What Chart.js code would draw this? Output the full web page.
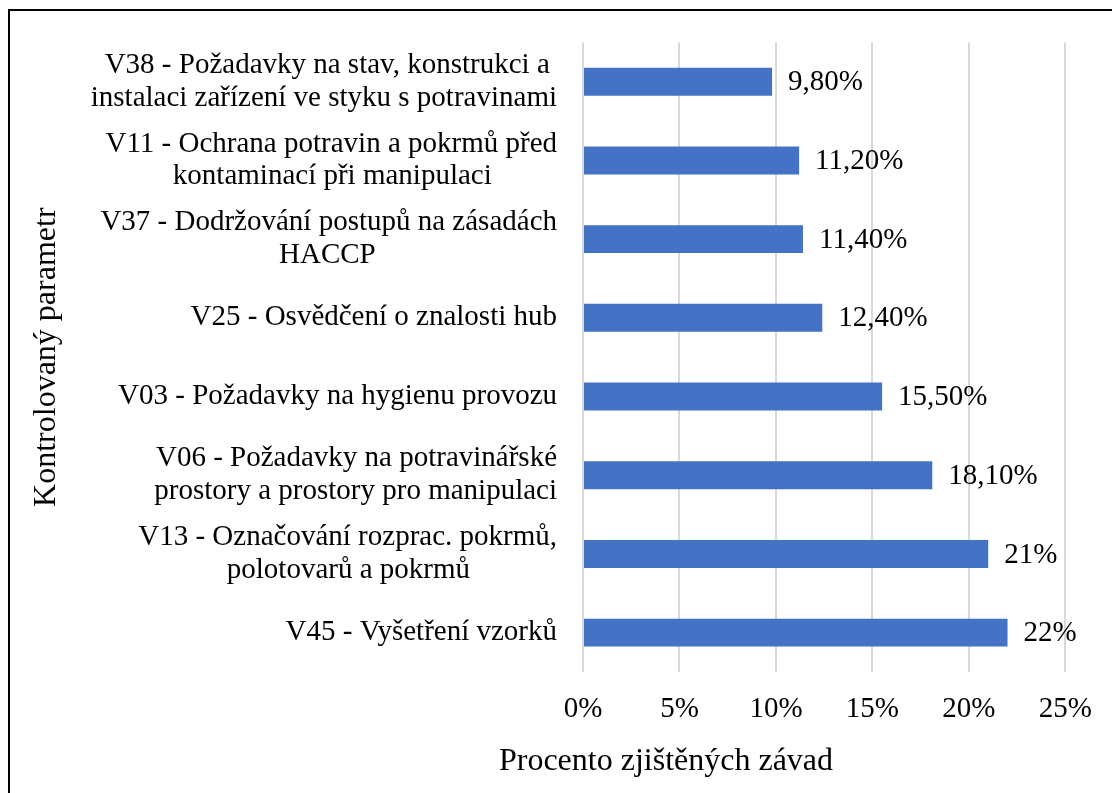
<!DOCTYPE html>
<html><head><meta charset="utf-8">
<script src="https://cdn.jsdelivr.net/npm/chart.js@4/dist/chart.umd.min.js"></script>
<style>
html,body{margin:0;padding:0;background:#fff;overflow:hidden;}
#wrap{position:relative;width:1112px;height:793px;}
#frame{position:absolute;left:8px;top:9px;width:1200px;height:900px;border-left:2px solid #000;border-top:2px solid #000;pointer-events:none;}
canvas{position:absolute;left:0;top:0;}
</style></head><body>
<div id="wrap"><canvas id="c" width="1112" height="793"></canvas><div id="frame"></div></div>
<script>
const categories = [
  ["V38 - Požadavky na stav, konstrukci a", "instalaci zařízení ve styku s potravinami"],
  ["V11 - Ochrana potravin a pokrmů před", "kontaminací při manipulaci"],
  ["V37 - Dodržování postupů na zásadách", "HACCP"],
  ["V25 - Osvědčení o znalosti hub"],
  ["V03 - Požadavky na hygienu provozu"],
  ["V06 - Požadavky na potravinářské", "prostory a prostory pro manipulaci"],
  ["V13 - Označování rozprac. pokrmů,", "polotovarů a pokrmů"],
  ["V45 - Vyšetření vzorků"]
];
const values = [9.8, 11.2, 11.4, 12.4, 15.5, 18.1, 21, 22];
const valueLabels = ["9,80%", "11,20%", "11,40%", "12,40%", "15,50%", "18,10%", "21%", "22%"];
const xTicks = [0, 5, 10, 15, 20, 25];
const xTitle = "Procento zjištěných závad";
const yTitle = "Kontrolovaný parametr";

const FAMILY = '"Liberation Serif", "Times New Roman", serif';
const LABEL_SIZE = 29;
const TITLE_SIZE = 32;

const mctx = document.createElement('canvas').getContext('2d');
mctx.font = LABEL_SIZE + 'px ' + FAMILY;
function centerLines(lines) {
  if (!Array.isArray(lines)) return lines;
  const widths = lines.map(l => mctx.measureText(l).width);
  const maxW = Math.max(...widths);
  const sp = mctx.measureText(' ').width;
  return lines.map((l, i) => l + ' '.repeat(Math.max(0, Math.round((maxW - widths[i]) / 2 / sp))));
}

const valueLabelPlugin = {
  id: 'valueLabels',
  afterDatasetsDraw(chart) {
    const ctx = chart.ctx;
    const meta = chart.getDatasetMeta(0);
    ctx.save();
    ctx.font = LABEL_SIZE + 'px ' + FAMILY;
    ctx.fillStyle = '#000';
    ctx.textAlign = 'left';
    ctx.textBaseline = 'middle';
    meta.data.forEach((bar, i) => ctx.fillText(valueLabels[i], bar.x + 16, bar.y + 1));
    ctx.restore();
  }
};
const xTitlePlugin = {
  id: 'xTitle',
  afterDraw(chart) {
    const ctx = chart.ctx;
    ctx.save();
    ctx.font = TITLE_SIZE + 'px ' + FAMILY;
    ctx.fillStyle = '#000';
    ctx.textAlign = 'center';
    ctx.textBaseline = 'alphabetic';
    ctx.fillText(xTitle, 666, 770);
    ctx.restore();
  }
};

Chart.defaults.font.family = FAMILY;
Chart.defaults.color = '#000';

new Chart(document.getElementById('c'), {
  type: 'bar',
  data: {
    labels: categories,
    datasets: [{
      data: values,
      backgroundColor: '#4472c4',
      borderWidth: 0,
      barPercentage: 0.355,
      categoryPercentage: 1
    }]
  },
  options: {
    indexAxis: 'y',
    responsive: false,
    animation: false,
    devicePixelRatio: 1,
    layout: { padding: { top: 39, right: 40, bottom: 0, left: 0 } },
    plugins: { legend: { display: false }, tooltip: { enabled: false }, title: { display: false } },
    scales: {
      x: {
        type: 'linear',
        min: 0, max: 25,
        afterBuildTicks: s => { s.ticks = xTicks.map(v => ({ value: v })); },
        afterFit: s => { s.height = 121; },
        grid: { color: '#d9d9d9', lineWidth: 2, drawTicks: false },
        border: { display: false },
        ticks: { callback: v => v + '%', font: { size: LABEL_SIZE }, padding: 20, maxRotation: 0, autoSkip: false }
      },
      y: {
        type: 'category',
        afterFit: s => { s.width = 583; },
        grid: { display: false, drawTicks: false },
        border: { display: false },
        ticks: {
          font: { size: LABEL_SIZE, lineHeight: 1.13 },
          padding: 26,
          autoSkip: false,
          callback: function (v, i) { return centerLines(categories[i]); }
        },
        title: { display: true, text: yTitle, font: { size: TITLE_SIZE }, padding: { top: 27, bottom: 0 } }
      }
    }
  },
  plugins: [valueLabelPlugin, xTitlePlugin]
});
</script>
</body></html>
